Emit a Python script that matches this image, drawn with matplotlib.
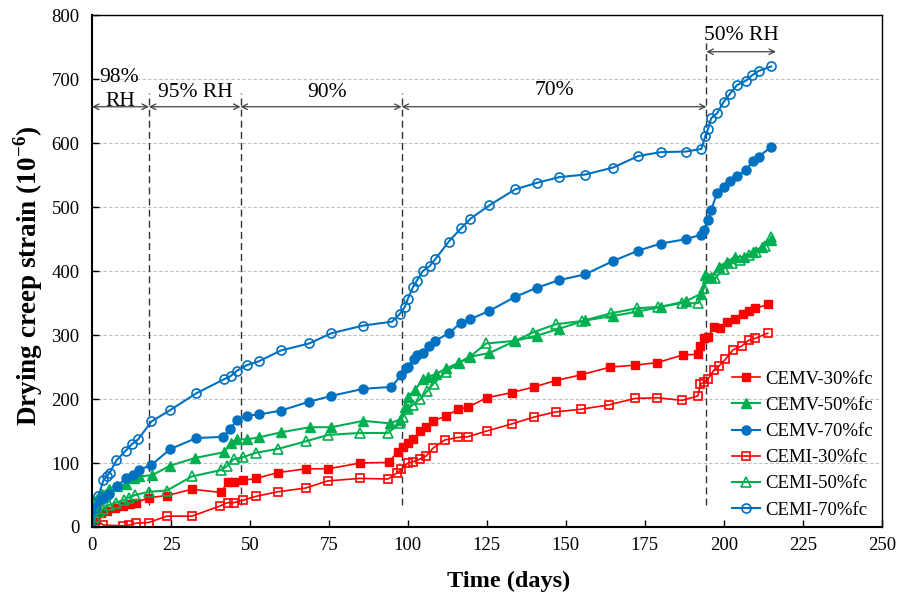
import numpy as np
import matplotlib
matplotlib.use('Agg')
import matplotlib.pyplot as plt

plt.rcParams['font.family'] = ['Liberation Serif', 'DejaVu Serif']
plt.rcParams['mathtext.fontset'] = 'custom'
plt.rcParams['mathtext.rm'] = 'Liberation Serif'
plt.rcParams['mathtext.bf'] = 'Liberation Serif:bold'

# data (days, strain 1e-6)
cemv30_t = [0, 1, 2.7, 4.8, 7.4, 9.8, 11.9, 14, 17.9, 23.7, 31.6, 40.9, 42.9, 44.8, 47.9, 51.9,
            58.8, 67.8, 74.8, 84.8, 93.9, 96.8, 98.4, 100, 101.6, 103.7, 105.8, 107.9, 111.9,
            115.8, 118.9, 124.9, 132.8, 140, 146.8, 154.9, 164, 171.9, 179, 187, 191.8, 192.6,
            193.7, 195, 196.8, 198.9, 201, 203.4, 206, 208, 210, 214]
cemv30_v = [0, 14, 22, 25, 29, 33, 36, 38, 46, 49, 59, 54, 71, 71, 73, 76,
            85, 91, 91, 100, 101, 118, 125, 131, 137, 150, 157, 166, 173,
            184, 187, 202, 210, 219, 229, 238, 250, 253, 257, 269, 270, 283,
            295, 297, 313, 311, 320, 325, 333, 338, 342, 348]

cemv50_t = [0, 0.7, 1.7, 3, 5.3, 8, 10.6, 13.2, 14.8, 19, 24.8, 32.7, 41.8, 43.9, 45.8, 49,
            52.7, 59.8, 68.9, 75.8, 85.9, 94.3, 97.4, 99, 100, 102.2, 104.7, 106.5, 108.8,
            112.1, 116.3, 119.5, 125.8, 134, 140.8, 147.9, 156.1, 165, 172.9, 180, 188, 192.9,
            194.2, 196, 198.4, 201, 203.7, 206.3, 209.4, 212, 215]
cemv50_v = [0, 40, 44, 52, 60, 64, 67, 76, 79, 81, 96, 108, 117, 132, 137, 137,
            140, 148, 156, 156, 166, 162, 168, 188, 204, 214, 231, 235, 239,
            248, 257, 266, 272, 291, 299, 310, 323, 330, 337, 344, 353, 365,
            394, 391, 407, 415, 422, 422, 430, 438, 449]

cemv70_t = [0, 1.1, 2.7, 4.3, 5.3, 7.9, 10.9, 13, 14.8, 18.8, 24.8, 33, 41.4, 43.7, 46, 49,
            52.9, 59.8, 68.8, 75.8, 85.8, 94.7, 97.9, 99.3, 100, 101.8, 102.8, 104.7, 106.8,
            108.7, 112.9, 116.8, 119.8, 125.8, 134, 140.8, 147.9, 156.1, 165, 172.9, 180, 188,
            192.9, 193.7, 195, 196, 197.9, 200, 201.9, 204.2, 207.1, 209.2, 211, 215]
cemv70_v = [0, 29, 42, 47, 51, 64, 76, 81, 89, 97, 122, 139, 141, 153, 168, 174,
            176, 182, 196, 205, 216, 219, 237, 248, 250, 262, 269, 272, 283,
            291, 303, 319, 325, 338, 360, 374, 386, 395, 416, 432, 443, 450,
            457, 465, 480, 496, 522, 532, 541, 548, 558, 572, 579, 594]

cemi30_t = [0, 1.4, 3.6, 9.8, 11.6, 14, 17.9, 23.7, 31.6, 40.6, 42.9, 44.8, 47.9, 51.9, 58.8,
            67.7, 74.6, 84.8, 93.7, 96.7, 97.9, 100, 101.6, 103.7, 105.8, 107.9, 111.6, 115.8,
            118.9, 124.9, 132.8, 140, 146.8, 154.7, 163.7, 171.9, 179, 186.8, 191.8, 192.6,
            193.7, 195, 196.8, 198.4, 200.5, 202.9, 205.7, 207.9, 210, 213.9]
cemi30_v = [0, 11, 3, 2, 3, 6, 7, 17, 17, 33, 38, 38, 42, 48, 55,
            61, 72, 76, 75, 85, 90, 100, 102, 106, 111, 123, 136, 140,
            141, 150, 161, 172, 180, 184, 191, 201, 202, 198, 205, 223,
            227, 231, 245, 251, 262, 277, 283, 292, 295, 303]

cemi50_t = [0, 1, 2.1, 3.5, 5.3, 7.5, 10, 11.6, 13.7, 17.9, 23.7, 31.6, 40.8, 42.7, 44.8, 47.7,
            51.8, 58.8, 67.7, 74.8, 84.8, 93.7, 97.4, 98.4, 100, 101.6, 103.9, 106, 108.1,
            112.1, 116.3, 119.6, 124.8, 134, 139.5, 146.8, 155.2, 164.2, 172.6, 179.1, 186.9,
            191.9, 193.7, 194.9, 197.3, 200, 202.6, 205.2, 207.9, 210.3, 212.9, 215]
cemi50_v = [0, 15, 24, 28, 34, 38, 42, 46, 50, 55, 57, 79, 89, 95, 106, 109,
            116, 122, 134, 144, 147, 147, 162, 172, 185, 191, 200, 212, 224,
            243, 257, 266, 287, 291, 304, 317, 322, 334, 342, 344, 350,
            350, 373, 389, 389, 404, 412, 417, 425, 430, 439, 453]

cemi70_t = [0, 1, 2, 3.6, 4.6, 5.6, 7.7, 10.6, 12.7, 14.6, 18.8, 24.8, 33, 41.8, 43.9, 45.8,
            49, 52.8, 59.8, 68.8, 75.8, 85.9, 95, 97.4, 99, 100, 101.6, 102.8, 104.7, 106.9,
            108.7, 112.9, 116.8, 119.8, 125.8, 134, 140.8, 147.9, 156.1, 165, 172.9, 180, 188,
            192.9, 194.2, 195, 196, 197.9, 200, 201.9, 204.2, 207.1, 208.9, 211, 215]
cemi70_v = [0, 30, 48, 73, 79, 85, 104, 119, 130, 137, 165, 183, 209, 231, 236, 244,
            253, 259, 276, 287, 303, 315, 321, 333, 344, 357, 375, 385, 400, 408,
            419, 446, 467, 482, 503, 528, 538, 547, 551, 562, 580, 586, 587,
            591, 612, 622, 639, 647, 665, 677, 691, 698, 706, 713, 720]

rh_changes = [18, 47, 98, 194.5]
rh_labels = ['95% RH', '90%', '70%']

red = '#FF0000'
green = '#00B050'
blue = '#0070C0'

fig = plt.figure(figsize=(9.14, 5.95), dpi=100)
ax = fig.add_axes([0.1007, 0.1143, 0.8640, 0.8600])

ax.plot(cemv30_t, cemv30_v, '-s', color=red, lw=1.2, ms=6, label='CEMV-30%fc')
ax.plot(cemv50_t, cemv50_v, '-^', color=green, lw=1.5, ms=7, label='CEMV-50%fc')
ax.plot(cemv70_t, cemv70_v, '-o', color=blue, lw=1.5, ms=6.5, label='CEMV-70%fc')
ax.plot(cemi30_t, cemi30_v, '-s', color=red, lw=1.2, ms=6, mfc='none', mew=1.2, label='CEMI-30%fc')
ax.plot(cemi50_t, cemi50_v, '-^', color=green, lw=1.5, ms=7, mfc='none', mew=1.2, label='CEMI-50%fc')
ax.plot(cemi70_t, cemi70_v, '-o', color=blue, lw=1.5, ms=6.5, mfc='none', mew=1.2, label='CEMI-70%fc')

# RH change lines
for i, d in enumerate(rh_changes):
    top = 757 if i == len(rh_changes) - 1 else 678
    ax.plot([d, d], [34, top], color='#333333', lw=1, ls=(0, (5, 3)), zorder=1)

arrow = dict(arrowstyle='<->', color='#404040', lw=0.9, shrinkA=0, shrinkB=0)
bounds = [0] + rh_changes
for a, b in zip(bounds[:-1], bounds[1:]):
    ax.annotate('', xy=(a, 657), xytext=(b, 657), arrowprops=arrow)
ax.annotate('', xy=(rh_changes[-1], 743), xytext=(216.5, 743), arrowprops=arrow)

tfs = 15.5
ax.text(8.5, 702, '98%', ha='center', va='center', fontsize=tfs)
ax.text(9, 665, 'RH', ha='center', va='center', fontsize=tfs)
ax.text(32.7, 679, rh_labels[0], ha='center', va='center', fontsize=tfs)
ax.text(74.4, 679, rh_labels[1], ha='center', va='center', fontsize=tfs)
ax.text(146.3, 682, rh_labels[2], ha='center', va='center', fontsize=tfs)
ax.text(205.5, 768, '50% RH', ha='center', va='center', fontsize=tfs)

ax.set_xlim(0, 250)
ax.set_ylim(0, 800)
ax.set_xticks(np.arange(0, 251, 25))
ax.set_yticks(np.arange(0, 801, 100))
ax.tick_params(direction='in', labelsize=13.5, length=5, width=1)
ax.tick_params(axis='x', pad=7)
ax.tick_params(axis='y', pad=9)
ax.yaxis.grid(True, color='#BFBFBF', ls=(0, (3, 2)), lw=0.8)
ax.set_axisbelow(True)
for s in ax.spines.values():
    s.set_linewidth(1)
ax.spines['left'].set_linewidth(1.5)
ax.spines['bottom'].set_linewidth(1.5)

ax.set_xlabel('Time (days)', fontsize=17.5, fontweight='bold')
ax.xaxis.set_label_coords(0.527, -0.085)
ax.set_ylabel('Drying creep strain (10$^{\\mathbf{-6}}$)', fontsize=19.5, fontweight='bold')
ax.yaxis.set_label_coords(-0.06, 0.49)

ax.legend(loc='lower right', frameon=False, fontsize=13.5, handlelength=1.5,
          handletextpad=0.3, labelspacing=0.48, borderaxespad=0.05, bbox_to_anchor=(1.0, 0.0))

fig.savefig('out.png', dpi=100)
